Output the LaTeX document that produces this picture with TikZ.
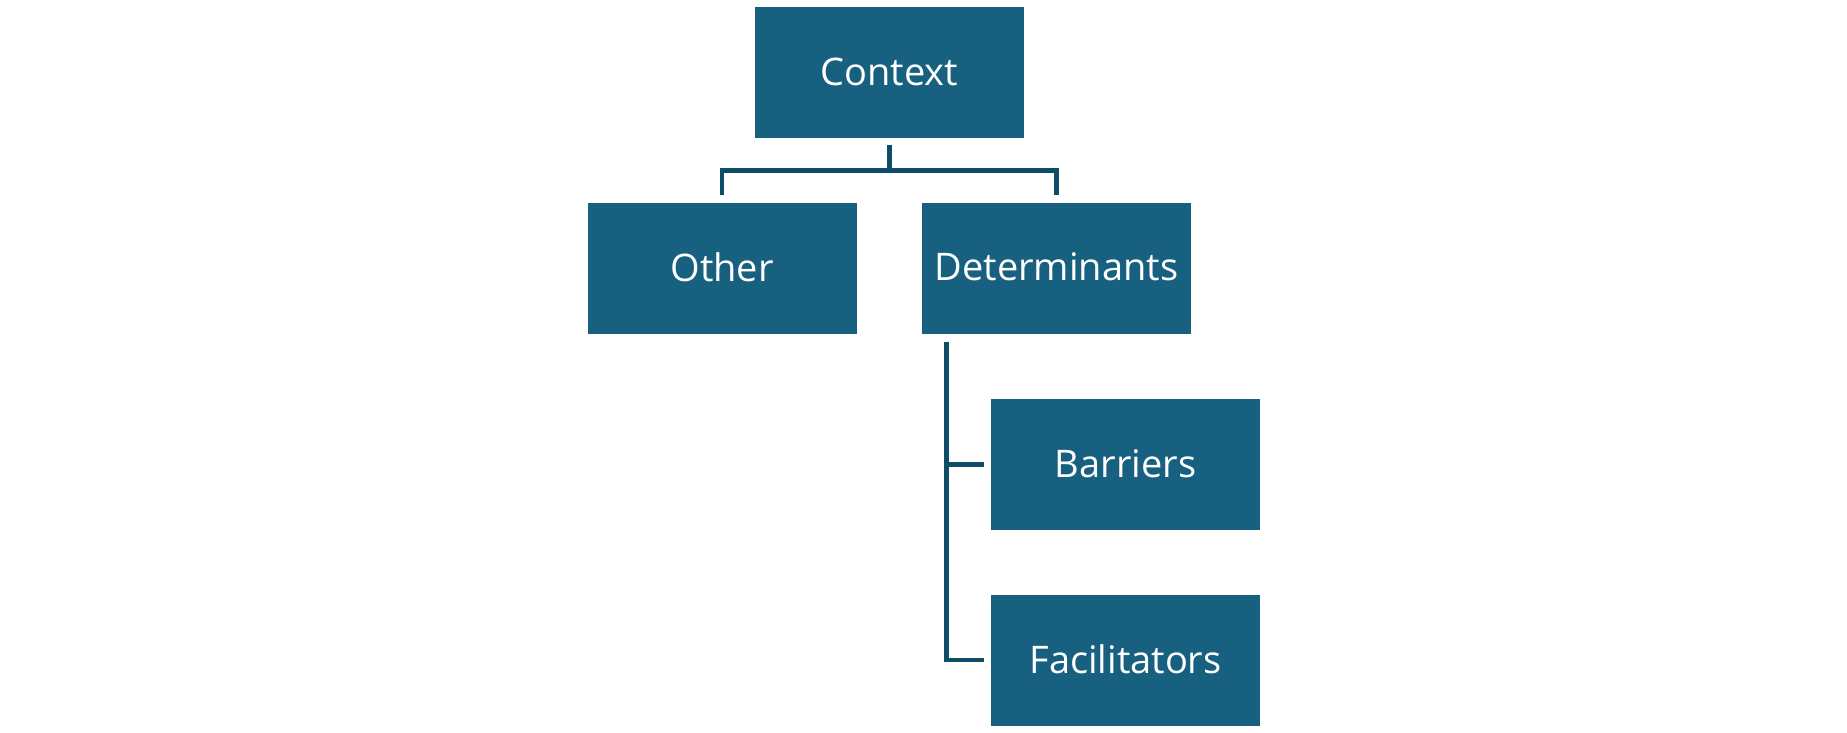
\documentclass[tikz,border=0pt]{standalone}
\usepackage{fontspec}
\setmainfont{Open Sans}
\usetikzlibrary{calc}
\definecolor{boxfill}{HTML}{17607F}
\definecolor{linecol}{HTML}{0F4C68}
\newcommand{\boxtext}[1]{\raisebox{2.5pt}{#1}}
\begin{document}
\begin{tikzpicture}[x=1pt,y=-1pt,
  box/.style={fill=boxfill,draw=none,minimum width=269pt,minimum height=131pt,inner sep=0pt,
    text=white,font=\fontsize{38}{44}\selectfont},
  conn/.style={draw=linecol,line width=4.7pt}]
\useasboundingbox (0,0) rectangle (1847,733);
\node[box] (ctx) at (889.5,72.5) {\boxtext{Context}};
\node[box] (oth) at (722,268) {\boxtext{Other}};
\node[box] (det) at (1056.5,268) {\boxtext{Determinants}};
\node[box] (bar) at (1125.5,464.5) {\boxtext{Barriers}};
\node[box] (fac) at (1125.5,660) {\boxtext{Facilitators}};
\draw[conn] ([yshift=-7pt]ctx.south) -- ++(0,25.5) coordinate (cm);
\draw[conn] ([yshift=7pt]oth.north) |- (cm) -| ([yshift=7pt]det.north);
\coordinate (dv) at ([xshift=24.5pt,yshift=-8pt]det.south west);
\draw[conn] (dv) |- ([xshift=-7pt]fac.west);
\draw[conn] (dv |- bar.west) -- ([xshift=-7pt]bar.west);
\end{tikzpicture}
\end{document}
